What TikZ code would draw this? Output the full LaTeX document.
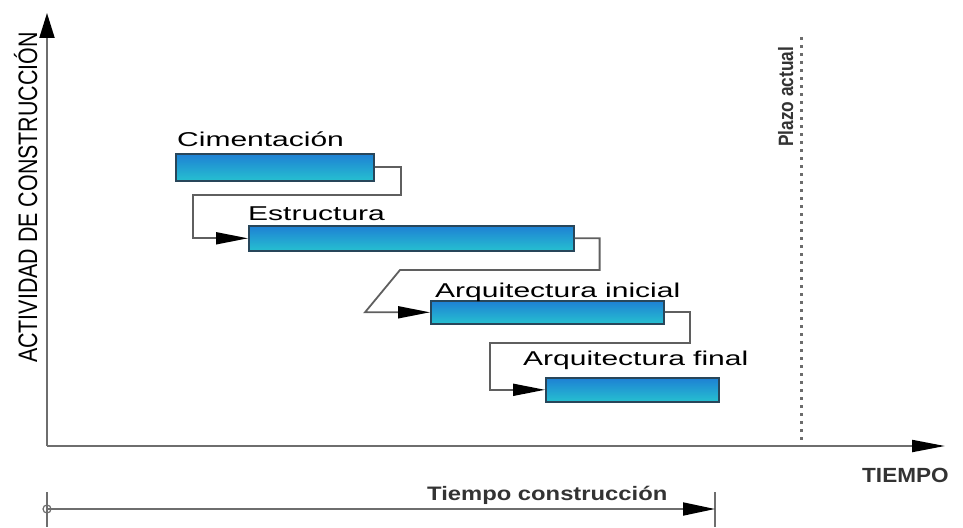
\documentclass[tikz,border=0pt]{standalone}
\usepackage{fontspec}
\setmainfont{Liberation Sans}
\usetikzlibrary{arrows.meta}
\definecolor{bartop}{RGB}{30,128,212}
\definecolor{barbot}{RGB}{38,192,208}
\definecolor{barline}{RGB}{40,70,90}
\definecolor{conncol}{RGB}{95,95,95}
\definecolor{axiscol}{RGB}{110,110,110}
\newcommand\sxx[1]{\scalebox{1.5}[1]{#1}}
\tikzset{
  bar/.style={draw=barline, line width=1.6pt, top color=bartop, bottom color=barbot, anchor=north west, inner sep=0pt},
  conn/.style={draw=conncol, line width=1.8pt, line join=miter},
  tipc/.style={-{Triangle[length=32pt,width=12pt,color=black]}},
  axisline/.style={draw=axiscol, line width=2pt},
  lbl/.style={inner sep=0pt, anchor=base west, font=\fontsize{20}{24}\selectfont},
  small/.style={inner sep=0pt, anchor=base west, text=black!80, font=\bfseries},
  dotline/.style={draw=gray!85!black, line width=3pt, dash pattern=on 3pt off 5pt}
}
\begin{document}
\begin{tikzpicture}[x=1pt,y=-1pt]
\useasboundingbox (0,0) rectangle (963,527);
% axes
\coordinate (O) at (47,446);
\coordinate (ytop) at (47,13);
\coordinate (xend) at (945,446);
\draw[axisline,-{Triangle[length=25pt,width=15pt,color=black]}] (O) -- (ytop);
\draw[axisline,-{Triangle[length=33pt,width=12pt,color=black]}] (O) -- (xend);
% plazo actual line
\coordinate (pa1) at (801,37);
\coordinate (pa2) at (801,446);
\draw[dotline] (pa1) -- (pa2);
% bars
\node[bar, minimum width=198pt, minimum height=27pt] (b1) at (175,153) {};
\node[bar, minimum width=325pt, minimum height=25pt] (b2) at (248,225) {};
\node[bar, minimum width=233pt, minimum height=23pt] (b3) at (430,300) {};
\node[bar, minimum width=173pt, minimum height=24pt] (b4) at (545,377) {};
% connectors
\draw[conn,tipc] (b1.east) -- ++(26,0) |- (193,195) |- (b2.west);
\draw[conn,tipc] (b2.east) -- ++(25,0) |- (400,270) -- ([xshift=-65pt]b3.west) -- (b3.west);
\draw[conn,tipc] (b3.east) -- ++(25,0) |- (490,343) |- (b4.west);
% labels
\node[lbl] (t1) at (177,146) {\sxx{Cimentación}};
\node[lbl] (t2) at (248,220) {\sxx{Estructura}};
\node[lbl] (t3) at (435,297) {\sxx{Arquitectura inicial}};
\node[lbl] (t4) at (523,365) {\sxx{Arquitectura final}};
\node[inner sep=0pt, anchor=base west, rotate=90, font=\fontsize{21.4}{24}\selectfont] (ylab) at (37,363) {\scalebox{1}[1.25]{ACTIVIDAD DE CONSTRUCCIÓN}};
\node[small, rotate=90, font=\fontsize{17.3}{20}\selectfont\bfseries] (plab) at (793,147) {\scalebox{1}[1.2]{Plazo actual}};
\node[small, font=\fontsize{20.5}{24}\selectfont\bfseries] (xlab) at (862,482) {\scalebox{1.1}[1]{TIEMPO}};
% tiempo construccion
\coordinate (d1) at (47,509);
\coordinate (d2) at (715,509);
\coordinate (k1a) at (47,492);
\coordinate (k1b) at (47,527);
\coordinate (k2a) at (715,492);
\coordinate (k2b) at (715,527);
\draw[axisline, line width=1.6pt] (k1a) -- (k1b);
\draw[axisline, line width=1.6pt] (k2a) -- (k2b);
\draw[axisline, line width=1.2pt] (d1) circle (4pt);
\draw[axisline, line width=1.8pt, -{Triangle[length=32pt,width=13pt,color=black]}] (d1) -- (d2);
\node[small, font=\fontsize{19.5}{24}\selectfont\bfseries] (tc) at (427,500) {\scalebox{1.22}[1]{Tiempo construcción}};
\end{tikzpicture}
\end{document}
